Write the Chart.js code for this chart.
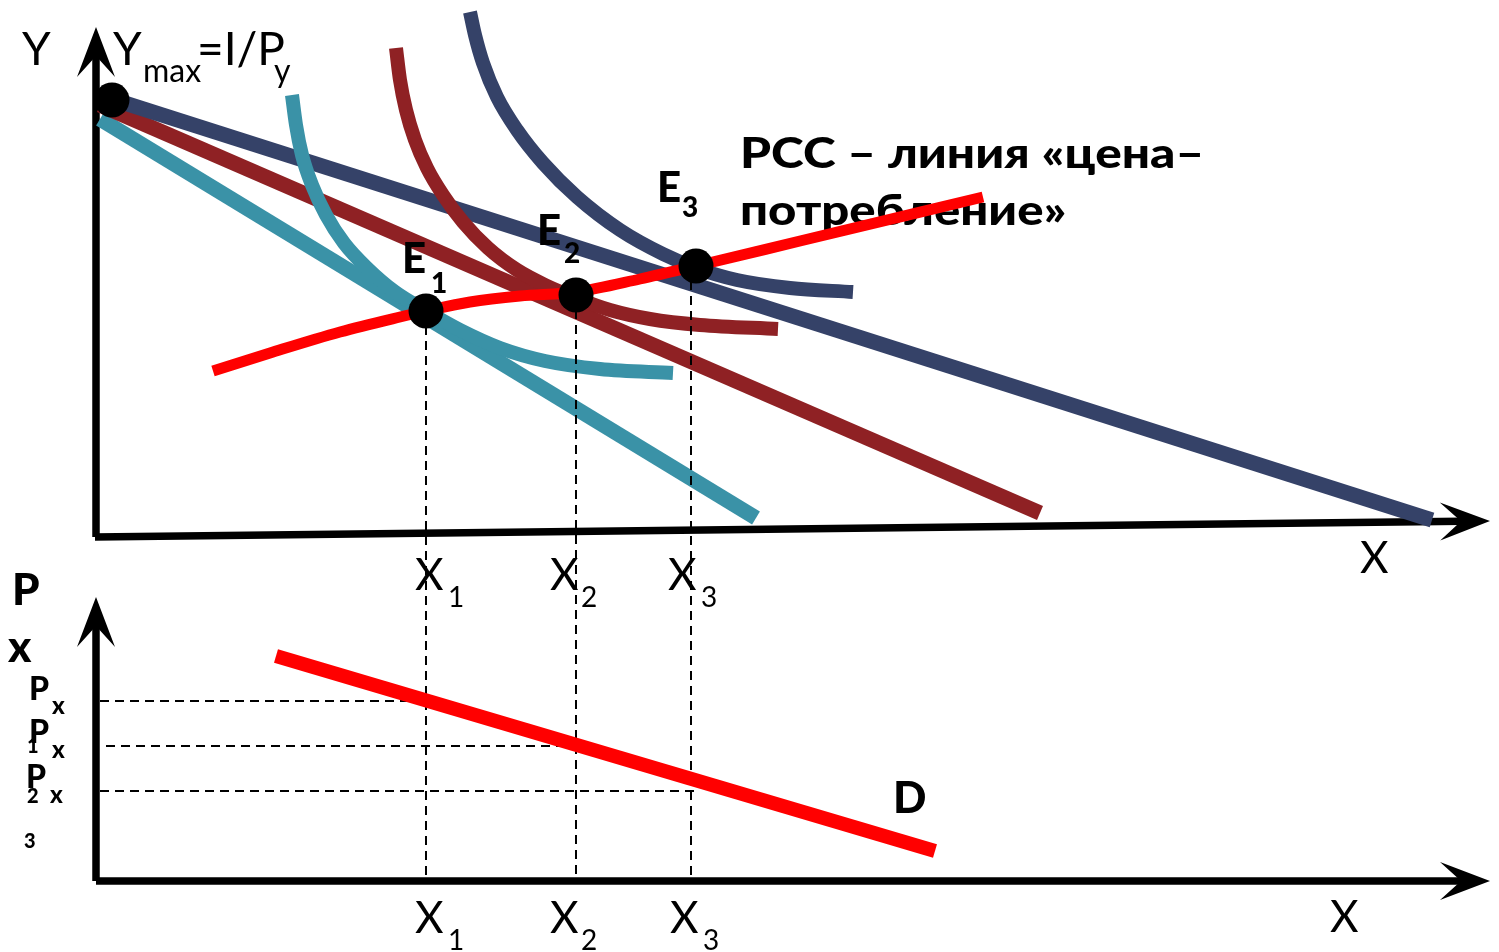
<!DOCTYPE html>
<html>
<head>
<meta charset="utf-8">
<script src="https://cdn.jsdelivr.net/npm/chart.js@4.4.1/dist/chart.umd.min.js"></script>
<style>
html,body{margin:0;padding:0;background:#fff;overflow:hidden}
#wrap{width:1499px;height:952px;position:relative}
</style>
</head>
<body>
<div id="wrap"><canvas id="c"></canvas></div>
<script>
// ---- data (x = good X quantity, y = good Y quantity / price, common diagram units) ----
const budgetTeal = [{x:4,y:761},{x:660,y:362}];
const budgetRed  = [{x:4,y:775},{x:944,y:367}];
const budgetNavy = [{x:16,y:781},{x:1336,y:360}];

const icTeal = [{x:196,y:785},{x:200,y:755},{x:206,y:725},{x:216,y:695},{x:230,y:665},{x:248,y:637},{x:271,y:612},{x:299,y:588},{x:330,y:569},{x:364,y:550},{x:404,y:532},{x:449,y:519},{x:504,y:511},{x:577,y:507}];
const icRed  = [{x:300,y:832},{x:304,y:800},{x:310,y:770},{x:319,y:740},{x:331,y:712},{x:347,y:685},{x:367,y:658},{x:392,y:632},{x:421,y:610},{x:449,y:595},{x:480,y:582},{x:514,y:570},{x:554,y:561},{x:604,y:555},{x:682,y:551}];
const icNavy = [{x:374,y:868},{x:379,y:845},{x:387,y:817},{x:401,y:783},{x:421,y:750},{x:447,y:717},{x:481,y:683},{x:524,y:650},{x:567,y:626},{x:600,y:612},{x:641,y:600},{x:694,y:592},{x:757,y:588}];

const pcc = [{x:117,y:509},{x:174,y:527},{x:244,y:548},{x:304,y:563},{x:330,y:569},{x:374,y:578},{x:424,y:584},{x:480,y:588},{x:544,y:601},{x:600,y:614},{x:704,y:639},{x:887,y:683}];
const demand = [{x:180,y:224},{x:839,y:29}];

const yMaxPoint = [{x:16,y:780}];
const equilibria = [{x:330,y:569},{x:480,y:585},{x:600,y:614}];
const quantities = [330, 480, 595];      // X1, X2, X3
const quantityTops = [569, 585, 614];
const prices = [179, 134, 89];           // Px1, Px2, Px3
const priceStarts = [4, 10, 4];
const priceEnds = [330, 480, 599];

const axisTopY = [{x:0,y:343},{x:0,y:825}];
const axisTopX = [{x:-1,y:343},{x:1366,y:358.7}];
const axisBotY = [{x:0,y:-1},{x:0,y:255}];
const axisBotX = [{x:0,y:-1},{x:1366,y:-1}];
const arrowTips = [{x:0,y:853},{x:1394,y:359},{x:0,y:283},{x:1394,y:-1}];

const texts = [
  {t:'Y', x:-74, y:815, s:46},
  {t:'Y', x:17, y:815, s:46},
  {t:'max', x:47, y:798, s:32},
  {t:'=I/P', x:101, y:815, s:46},
  {t:'y', x:178, y:798, s:32},
  {t:'E', x:306, y:607, s:42, w:'900', top:true},
  {t:'1', x:335, y:587, s:28, w:'900', top:true},
  {t:'E', x:441, y:635, s:42, w:'900', top:true},
  {t:'2', x:468, y:617, s:28, w:'900', top:true},
  {t:'E', x:561, y:678, s:42, w:'900', top:true},
  {t:'3', x:586, y:663, s:28, w:'900', top:true},
  {t:'PCC \u2013 \u043b\u0438\u043d\u0438\u044f \u00ab\u0446\u0435\u043d\u0430\u2013', x:644, y:712, s:42, w:'900', sx:1.18},
  {t:'\u043f\u043e\u0442\u0440\u0435\u0431\u043b\u0435\u043d\u0438\u0435\u00bb', x:644, y:655, s:42, w:'900', sx:1.17},
  {t:'X', x:1264, y:307, s:44},
  {t:'X', x:319, y:290, s:44}, {t:'1', x:352, y:273, s:28},
  {t:'X', x:454, y:290, s:44}, {t:'2', x:485, y:273, s:28},
  {t:'X', x:572, y:290, s:44}, {t:'3', x:605, y:273, s:28},
  {t:'X', x:319, y:-53, s:44}, {t:'1', x:352, y:-70, s:28},
  {t:'X', x:454, y:-53, s:44}, {t:'2', x:485, y:-70, s:28},
  {t:'X', x:574, y:-53, s:44}, {t:'3', x:607, y:-70, s:28},
  {t:'X', x:1234, y:-52, s:44},
  {t:'P', x:-84, y:275, s:44, w:'900'},
  {t:'x', x:-88, y:218, s:44, w:'900'},
  {t:'P', x:-67, y:180, s:32, w:'900'}, {t:'x', x:-44, y:166, s:24, w:'900'},
  {t:'P', x:-67, y:137, s:32, w:'900'}, {t:'1', x:-69, y:127, s:20, w:'900'}, {t:'x', x:-44, y:122, s:24, w:'900'},
  {t:'P', x:-70, y:92, s:32, w:'900'}, {t:'2', x:-69, y:77, s:20, w:'900'}, {t:'x', x:-46, y:77, s:24, w:'900'},
  {t:'3', x:-72, y:32, s:20, w:'900'},
  {t:'D', x:797, y:67, s:44, w:'900'}
];

// ---- styles ----
const FONT = 'Lato, "Open Sans", sans-serif';
const C_TEAL = '#3a92a7', C_RED = '#8f2124', C_NAVY = '#354268', C_PCC = '#ff0000', C_BLACK = '#000';

function lineDs(data, color, width, order, curve, dash) {
  return {
    data, order, showLine: true, borderColor: color, borderWidth: width,
    pointRadius: 0, pointHoverRadius: 0, fill: false,
    cubicInterpolationMode: curve ? 'monotone' : 'default', tension: 0,
    borderDash: dash || [], borderCapStyle: 'butt', clip: false
  };
}

const datasets = [
  lineDs(axisTopY, C_BLACK, 7.5, 20), lineDs(axisTopX, C_BLACK, 7.5, 20),
  lineDs(axisBotY, C_BLACK, 7.5, 20), lineDs(axisBotX, C_BLACK, 7.5, 20),
  lineDs(budgetTeal, C_TEAL, 15, 12), lineDs(budgetRed, C_RED, 15, 11), lineDs(budgetNavy, C_NAVY, 15, 10),
  lineDs(icTeal, C_TEAL, 14, 9, true), lineDs(icRed, C_RED, 14, 8, true), lineDs(icNavy, C_NAVY, 14, 7, true),
];
quantities.forEach((q, i) => {
  datasets.push(lineDs([{x:q, y:quantityTops[i]}, {x:q, y:0}], C_BLACK, 2, 6, false, [9,6]));
  datasets.push(lineDs([{x:priceStarts[i], y:prices[i]}, {x:priceEnds[i], y:prices[i]}], C_BLACK, 2, 6, false, [9,6]));
});
datasets.push(lineDs(pcc, C_PCC, 11, 4, true));
datasets.push(lineDs(demand, C_PCC, 14, 4));
datasets.push({data: yMaxPoint.concat(equilibria), order: 1, showLine: false, pointRadius: 17.5, pointHoverRadius: 17.5,
  pointBackgroundColor: C_BLACK, pointBorderWidth: 0, clip: false});

function drawTexts(chart, onTop) {
  const {ctx, scales: {x, y}} = chart;
  for (const l of texts) {
    if (!!l.top !== onTop) continue;
    ctx.save();
    ctx.textBaseline = 'alphabetic';
    ctx.textAlign = 'left';
    ctx.font = (l.w || 'normal') + ' ' + l.s + 'px ' + FONT;
    ctx.translate(x.getPixelForValue(l.x), y.getPixelForValue(l.y));
    ctx.scale(l.sx || 1, 1);
    ctx.fillStyle = '#000';
    ctx.fillText(l.t, 0, 0);
    ctx.restore();
  }
}

const textPlugin = {
  id: 'texts',
  beforeDatasetsDraw(chart) { drawTexts(chart, false); },
  afterDatasetsDraw(chart) { drawTexts(chart, true); }
};

const arrowPlugin = {
  id: 'arrows',
  afterDatasetsDraw(chart) {
    const {ctx, scales: {x, y}} = chart;
    const axes = [axisTopY, axisTopX, axisBotY, axisBotX];
    ctx.save();
    ctx.fillStyle = '#000';
    axes.forEach((ax, i) => {
      const a = ax[ax.length - 1], t = arrowTips[i];
      const ax0 = x.getPixelForValue(a.x), ay0 = y.getPixelForValue(a.y);
      const tx = x.getPixelForValue(t.x), ty = y.getPixelForValue(t.y);
      let dx = tx - ax0, dy = ty - ay0; const len = Math.hypot(dx, dy); dx /= len; dy /= len;
      const nx = -dy, ny = dx, L = 50, W = 19, N = 29;
      ctx.beginPath();
      ctx.moveTo(tx, ty);
      ctx.lineTo(tx - L*dx + W*nx, ty - L*dy + W*ny);
      ctx.lineTo(tx - N*dx, ty - N*dy);
      ctx.lineTo(tx - L*dx - W*nx, ty - L*dy - W*ny);
      ctx.closePath();
      ctx.fill();
    });
    ctx.restore();
  }
};

new Chart(document.getElementById('c'), {
  type: 'scatter',
  data: { datasets },
  options: {
    responsive: true, maintainAspectRatio: false, animation: false,
    layout: { padding: 0, autoPadding: false },
    events: [],
    plugins: { legend: { display: false }, tooltip: { enabled: false } },
    scales: {
      x: { type: 'linear', min: -96, max: 1403, display: false },
      y: { type: 'linear', min: -72, max: 880, display: false }
    }
  },
  plugins: [textPlugin, arrowPlugin]
});
</script>
</body>
</html>
